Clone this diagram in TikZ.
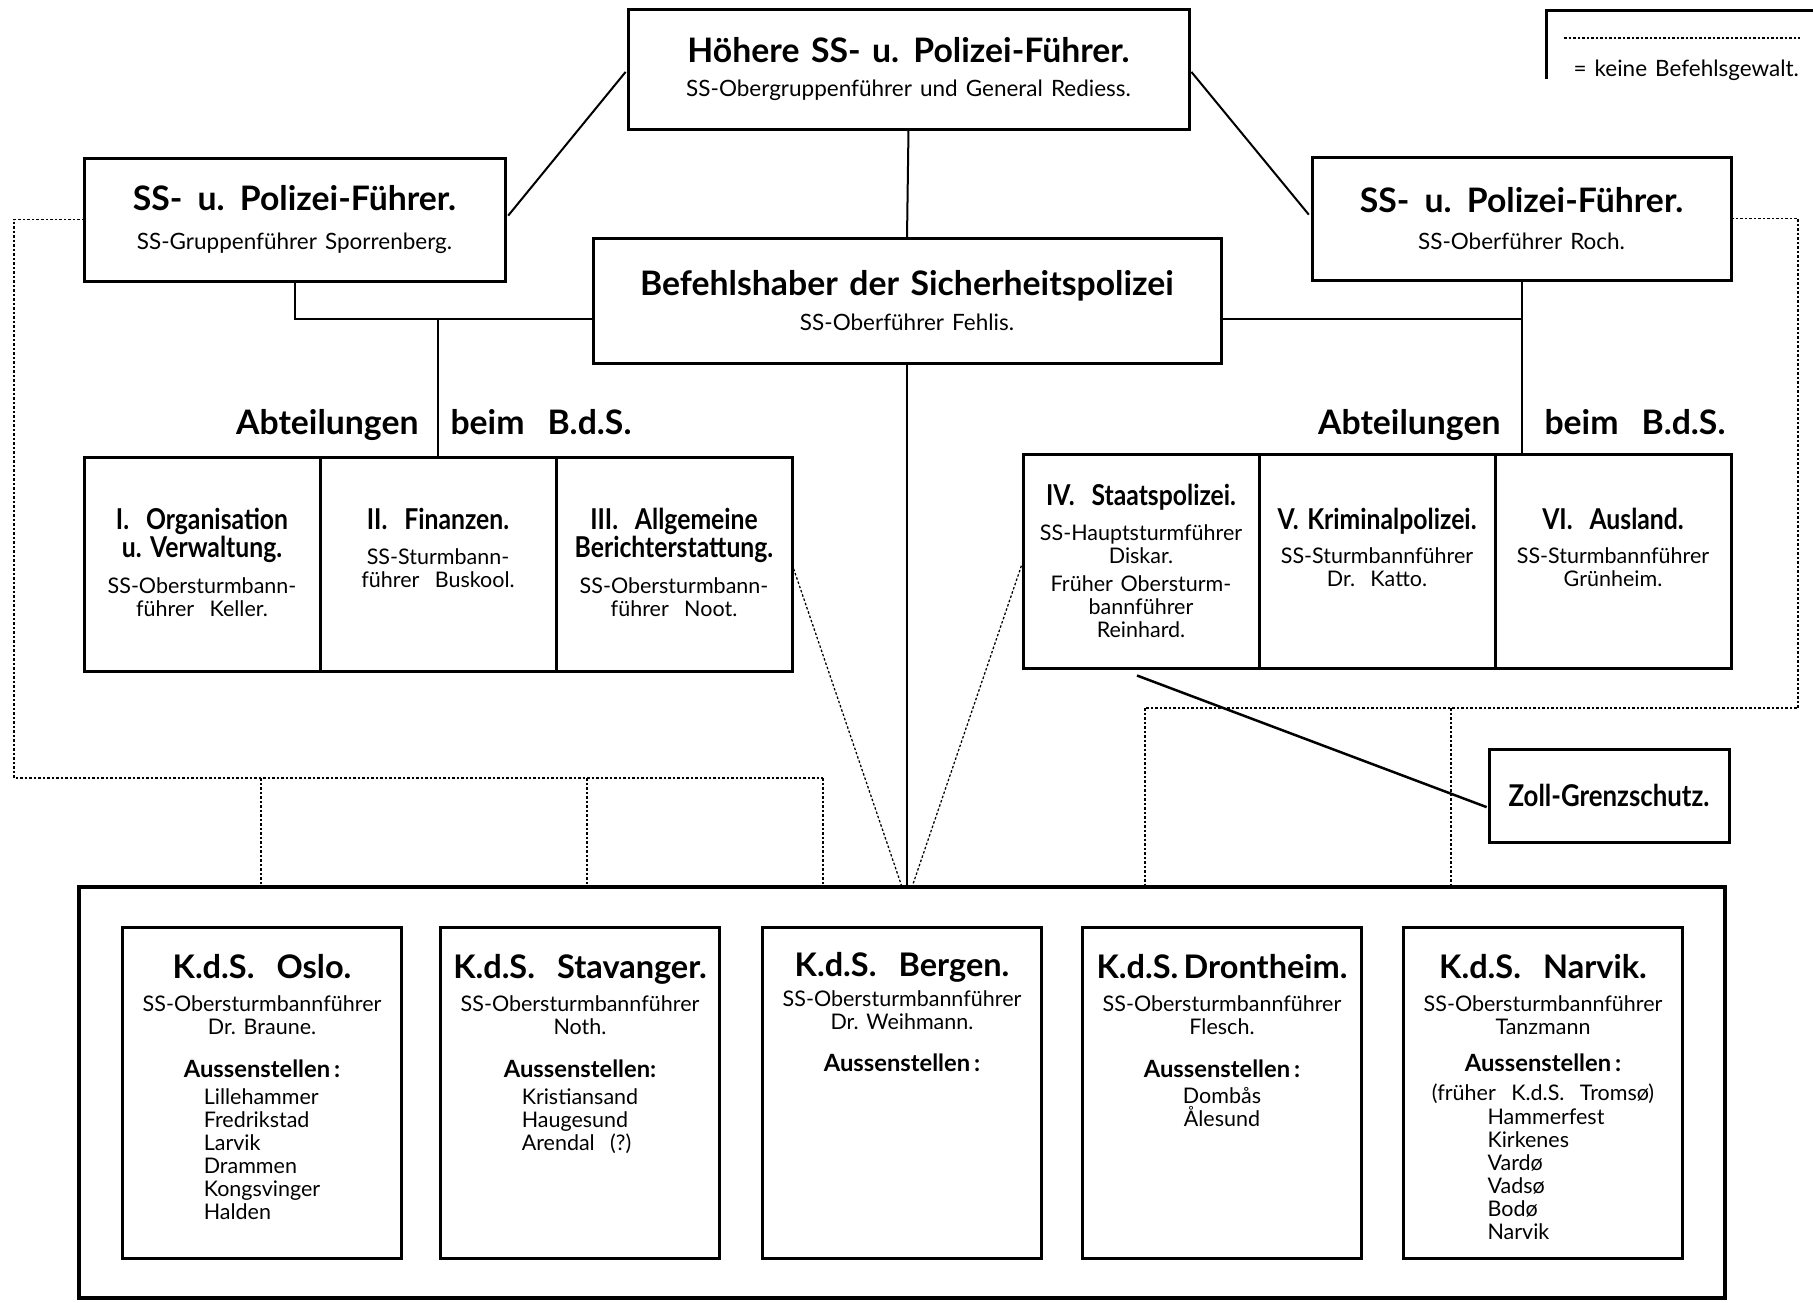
\documentclass[tikz,border=0pt]{standalone}
\usepackage{fontspec}
\setmainfont{Lato}[WordSpace=1.4]
\newfontfamily\narrowfont{Lato}[FakeStretch=0.86,WordSpace=1.4]
\usetikzlibrary{calc,positioning}

% fonts
\newcommand{\headf}{\bfseries\fontsize{13.5}{15}\selectfont}
\newcommand{\kdsf}{\bfseries\fontsize{13}{15}\selectfont}
\newcommand{\deptf}{\narrowfont\bfseries\fontsize{11.5}{13}\selectfont}
\newcommand{\aussf}{\bfseries\fontsize{9.5}{11}\selectfont}
\newcommand{\namef}{\fontsize{8.6}{9.2}\selectfont\lineskiplimit=-100pt\relax}
\newcommand{\subf}{\fontsize{9}{9.2}\selectfont\lineskiplimit=-100pt\relax}

\begin{document}
\begin{tikzpicture}[x=0.4pt, y=-0.4pt,
    box/.style 2 args={draw, line width=1.2pt, outer sep=0pt, inner sep=0pt, align=center, font=\namef,
        minimum width=#1*0.4pt, minimum height=#2*0.4pt},
    cell/.style={box={236}{214}},
    kbox/.style={box={279}{331}},
    txt/.style={inner sep=0pt, align=center, font=\namef},
    list/.style={inner sep=0pt, align=left, font=\namef, anchor=north},
    link/.style={line width=0.8pt},
    nolink/.style={line width=0.5pt, dash pattern=on 1pt off 0.8pt}]
    \useasboundingbox (0,0) rectangle (1813,1302);
    % Draw upper boxes
    \node[box={561}{120}, font=\subf] (top) at (908.5,69) {{\headf Höhere SS- u. Polizei-Führer.}\\[4.6pt]SS-Obergruppenführer und General Rediess.};
    \node[box={421}{123}, font=\subf] (lss) at (294.5,219.5) {{\headf SS-\hspace{0.45em}u.\hspace{0.45em}Polizei-Führer.}\\[6.6pt]SS-Gruppenführer Sporrenberg.};
    \node[box={419}{123}, font=\subf] (rss) at (1521.5,218.5) {{\headf SS-\hspace{0.45em}u.\hspace{0.45em}Polizei-Führer.}\\[5.8pt]SS-Oberführer Roch.};
    \node[box={628}{125}, font=\subf] (bds) at (907,300.5) {{\headf Befehlshaber der Sicherheitspolizei}\\[5pt]SS-Oberführer Fehlis.};
    % Labels over the departments
    \node[anchor=base east, inner sep=0pt, font=\headf] (labL1) at (419,434) {Abteilungen};
    \node[anchor=base west, inner sep=0pt, font=\headf] (labL2) at (450,434) {beim\ \ B.d.S.};
    \node[anchor=base east, inner sep=0pt, font=\headf] (labR1) at (1501,434) {Abteilungen};
    \node[anchor=base west, inner sep=0pt, font=\headf] (labR2) at (1544,434) {beim\ \ B.d.S.};
    % Draw department cells
    \node[cell] (abt1) at (202,564) {};
    \node[cell, right=0pt of abt1] (abt2) {};
    \node[cell, right=0pt of abt2] (abt3) {};
    \node[cell] (abt4) at (1141,561) {};
    \node[cell, right=0pt of abt4] (abt5) {};
    \node[cell, right=0pt of abt5] (abt6) {};
    \node[txt, anchor=north] (abt1t) at ($(abt1.north)+(0,51)$) {{\deptf I.\ \ Organisation}\\[2pt]{\deptf u.~Verwaltung.}\\[5.2pt]SS-Obersturmbann-\\führer\ \ Keller.};
    \node[txt, anchor=north] (abt2t) at ($(abt2.north)+(0,51)$) {{\deptf II.\ \ Finanzen.}\\[4.6pt]SS-Sturmbann-\\führer\ \ Buskool.};
    \node[txt, anchor=north] (abt3t) at ($(abt3.north)+(0,51)$) {{\deptf III.\ \ Allgemeine}\\[2pt]{\deptf Berichterstattung.}\\[5.2pt]SS-Obersturmbann-\\führer\ \ Noot.};
    \node[txt, anchor=north] (abt4t) at ($(abt4.north)+(0,30)$) {{\deptf IV.\ \ Staatspolizei.}\\[4.8pt]SS-Hauptsturmführer\\Diskar.\\[2pt]Früher Obersturm-\\bannführer\\Reinhard.};
    \node[txt, anchor=north] (abt5t) at ($(abt5.north)+(0,54)$) {{\deptf V. Kriminalpolizei.}\\[4.4pt]SS-Sturmbannführer\\Dr.\ \ Katto.};
    \node[txt, anchor=north] (abt6t) at ($(abt6.north)+(0,54)$) {{\deptf VI.\ \ Ausland.}\\[4.4pt]SS-Sturmbannführer\\Grünheim.};
    % Zoll box
    \node[box={240}{93}] (zoll) at (1609,795.5) {\deptf\fontsize{12}{14}\selectfont Zoll-Grenzschutz.};
    % Draw lower frame and K.d.S. boxes
    \node[box={1646}{411}, line width=1.4pt] (bot) at (902,1092.5) {};
    \foreach \x [count=\i] in {262,580,902,1222,1543}
        \node[kbox] (k\i) at (\x,1092.5) {};
    \node[txt, anchor=north] (k1t) at ($(k1.north)+(0,27)$) {{\kdsf K.d.S.\ \ Oslo.}\\[3.8pt]SS-Obersturmbannführer\\Dr.\ Braune.\\[8.1pt]{\aussf Aussenstellen\,:}};
    \node[list] (k1l) at ($(k1t.south)+(0,10)$) {Lillehammer\\Fredrikstad\\Larvik\\Drammen\\Kongsvinger\\Halden};
    \node[txt, anchor=north] (k2t) at ($(k2.north)+(0,27)$) {{\kdsf K.d.S.\ \ Stavanger.}\\[3.8pt]SS-Obersturmbannführer\\Noth.\\[8.1pt]{\aussf Aussenstellen:}};
    \node[list] (k2l) at ($(k2t.south)+(0,10)$) {Kristiansand\\Haugesund\\Arendal\ \ (?)};
    \node[txt, anchor=north] (k3t) at ($(k3.north)+(0,25)$) {{\kdsf K.d.S.\ \ Bergen.}\\[2.6pt]SS-Obersturmbannführer\\Dr.\ Weihmann.\\[7.7pt]{\aussf Aussenstellen\,:}};
    \node[txt, anchor=north] (k4t) at ($(k4.north)+(0,27)$) {{\kdsf K.d.S.\,Drontheim.}\\[3.8pt]SS-Obersturmbannführer\\Flesch.\\[8.1pt]{\aussf Aussenstellen\,:}\\[1.1pt]Dombås\\Ålesund};
    \node[txt, anchor=north] (k5t) at ($(k5.north)+(0,27)$) {{\kdsf K.d.S.\ \ Narvik.}\\[3.8pt]SS-Obersturmbannführer\\Tanzmann\\[5.7pt]{\aussf Aussenstellen\,:}\\[2.3pt](früher\ \ K.d.S.\ \ Tromsø)};
    \node[list] (k5l) at ($(k5t.south)+(3,5)$) {Hammerfest\\Kirkenes\\Vardø\\Vadsø\\Bodø\\Narvik};
    % Solid connectors
    \draw[link, shorten <=1.5pt, shorten >=2pt] (top.west) -- (lss.east);
    \draw[link, shorten <=1.5pt, shorten >=2pt] (top.east) -- (rss.west);
    \draw[link] (top.south) -- (bds.north);
    \coordinate (ljoin) at (lss.south |- 0,319);
    \coordinate (rjoin) at (rss.south |- 0,319);
    \draw[link] (lss.south) -- (ljoin) -- (bds.west |- ljoin);
    \draw[link] (ljoin -| abt2.north) -- (abt2.north);
    \draw[link] (bds.east |- rjoin) -- (rjoin);
    \draw[link] (rss.south) -- (rss.south |- abt5.north);
    \draw[link] (bds.south) -- (bds.south |- bot.north);
    \draw[line width=1pt, shorten >=1pt] ([xshift=-1.6pt, yshift=-3pt]abt4.south) -- ([yshift=-5pt]zoll.west);
    % Dotted connectors (no command authority)
    \coordinate (lcorner) at (14,778);
    \coordinate (rcorner) at (1798,708);
    \draw[nolink] (lss.west) -| (lcorner) -- (lcorner -| 823,0);
    \foreach \x in {261,587,823}
        \draw[nolink] (lcorner -| \x,0) -- (bot.north -| \x,0);
    \draw[nolink] (rss.east) -| (rcorner) -- (rcorner -| 1145,0);
    \foreach \x in {1145,1451}
        \draw[nolink] (rcorner -| \x,0) -- (bot.north -| \x,0);
    \draw[nolink, shorten <=2pt] (abt3.east) -- ([xshift=-2pt]bds.south |- bot.north);
    \draw[nolink, shorten <=2pt] (abt4.west) -- ([xshift=2pt]bds.south |- bot.north);
    % Legend
    \node[anchor=west, inner sep=0pt, font=\subf] (legtxt) at (1573,70) {= keine Befehlsgewalt.};
    \draw[line width=1.2pt] (1813,10) -- (1546,10) -- (1546,79);
    \draw[nolink] (1564,38) -- (1800,38);
\end{tikzpicture}
\end{document}
